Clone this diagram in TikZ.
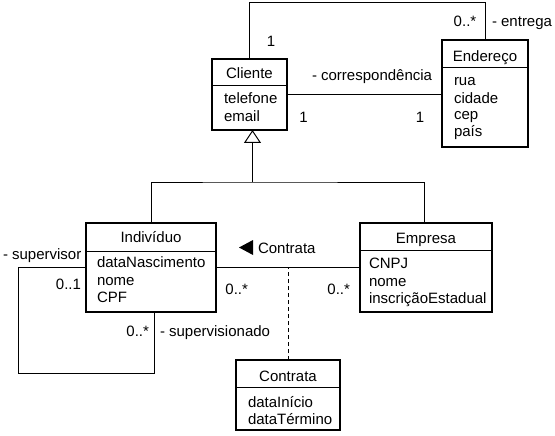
\documentclass[tikz,border=0pt]{standalone}
\usepackage{fontspec}
\setmainfont{Liberation Sans}
\usetikzlibrary{arrows.meta,calc}
\begin{document}
\begin{tikzpicture}[x=1pt,y=-1pt,
  every node/.style={font=\fontsize{15}{17}\selectfont, inner sep=0pt, outer sep=0pt},
  cls/.style 2 args={draw, line width=2.2pt, anchor=north west, minimum width=#1, minimum height=#2},
  sepl/.style={line width=1pt},
  hdr/.style={anchor=base},
  attr/.style={anchor=base west},
  lblw/.style={anchor=base west},
  lble/.style={anchor=base east},
  lblc/.style={anchor=base},
  assoc/.style={line width=1pt},
  gen/.style={line width=1pt, -{Triangle[open, length=13pt, width=17pt, line width=1pt]}},
  dep/.style={line width=1pt, dash pattern=on 4pt off 3pt}]
\useasboundingbox (0,0) rectangle (555,436);

% classes
\node[cls={75pt}{71pt}]   (cli) at (212,59) {};
\node[cls={86pt}{107pt}]  (end) at (442,40) {};
\node[cls={130pt}{89pt}]  (ind) at (86,223) {};
\node[cls={132pt}{89pt}]  (emp) at (360,223) {};
\node[cls={104pt}{70pt}]  (ctr) at (236,360) {};

% compartments
\draw[sepl] ($(cli.north west)+(0,27)$) -- ($(cli.north east)+(0,27)$);
\draw[sepl] ($(end.north west)+(0,28)$) -- ($(end.north east)+(0,28)$);
\draw[sepl] ($(ind.north west)+(0,28)$) -- ($(ind.north east)+(0,28)$);
\draw[sepl] ($(emp.north west)+(0,27)$) -- ($(emp.north east)+(0,27)$);
\draw[sepl] ($(ctr.north west)+(0,27)$) -- ($(ctr.north east)+(0,27)$);

% headers
\node[hdr] (cliH) at (249.5,79) {Cliente};
\node[hdr] (endH) at (485,62) {Endereço};
\node[hdr] (indH) at (151,242) {Indivíduo};
\node[hdr] (empH) at (426,243) {Empresa};
\node[hdr] (ctrH) at (288,381) {Contrata};

% attributes
\node[attr] (cliA1) at (224,104) {telefone};
\node[attr] (cliA2) at (224,121.5) {email};
\node[attr] (endA1) at (454,86) {rua};
\node[attr] (endA2) at (454,103) {cidade};
\node[attr] (endA3) at (454,120) {cep};
\node[attr] (endA4) at (454,137) {país};
\node[attr] (indA1) at (97,267) {dataNascimento};
\node[attr] (indA2) at (97,285) {nome};
\node[attr] (indA3) at (97,302) {CPF};
\node[attr] (empA1) at (369,268) {CNPJ};
\node[attr] (empA2) at (369,286) {nome};
\node[attr] (empA3) at (369,303) {inscriçãoEstadual};
\node[attr] (ctrA1) at (248,407) {dataInício};
\node[attr] (ctrA2) at (248,424) {dataTérmino};

% associations
\draw[assoc] (cli.north) -- ++(0,-56) -| (end.north);
\draw[assoc] (cli.east) -- (cli.east -| end.west);
\coordinate (gj) at (252.5,182);
\draw[gen] (gj) -- ([xshift=3pt]cli.south);
\draw[assoc] (ind.north) |- (gj) -| ([xshift=-2pt]emp.north);
\draw[assoc] (ind.east) -- (ind.east -| emp.west);
\draw[dep] (ctr.north) -- (ctr.north |- ind.east);
\coordinate (sl) at (18,373);
\draw[assoc] (ind.west) -| (sl) -| ([xshift=3pt]ind.south);

% labels
\node[lblc] (m1) at (271,47) {1};
\node[lblc] (m2) at (465,27) {0..*};
\node[lblw] (r1) at (492,27) {- entrega};
\node[lblw] (r2) at (312,81) {- correspondência};
\node[lblc] (m3) at (303.5,122) {1};
\node[lblc] (m4) at (420,122) {1};
\fill (239,247.5) -- (253,240) -- (253,255) -- cycle;
\node[lblw] (an) at (258,253) {Contrata};
\node[lble] (m5) at (248,294) {0..*};
\node[lble] (m6) at (350,294) {0..*};
\node[lblw] (r3) at (3,259) {- supervisor};
\node[lble] (m7) at (81,289) {0..1};
\node[lble] (m8) at (149,336) {0..*};
\node[lblw] (r4) at (160,336) {- supervisionado};
\end{tikzpicture}
\end{document}
